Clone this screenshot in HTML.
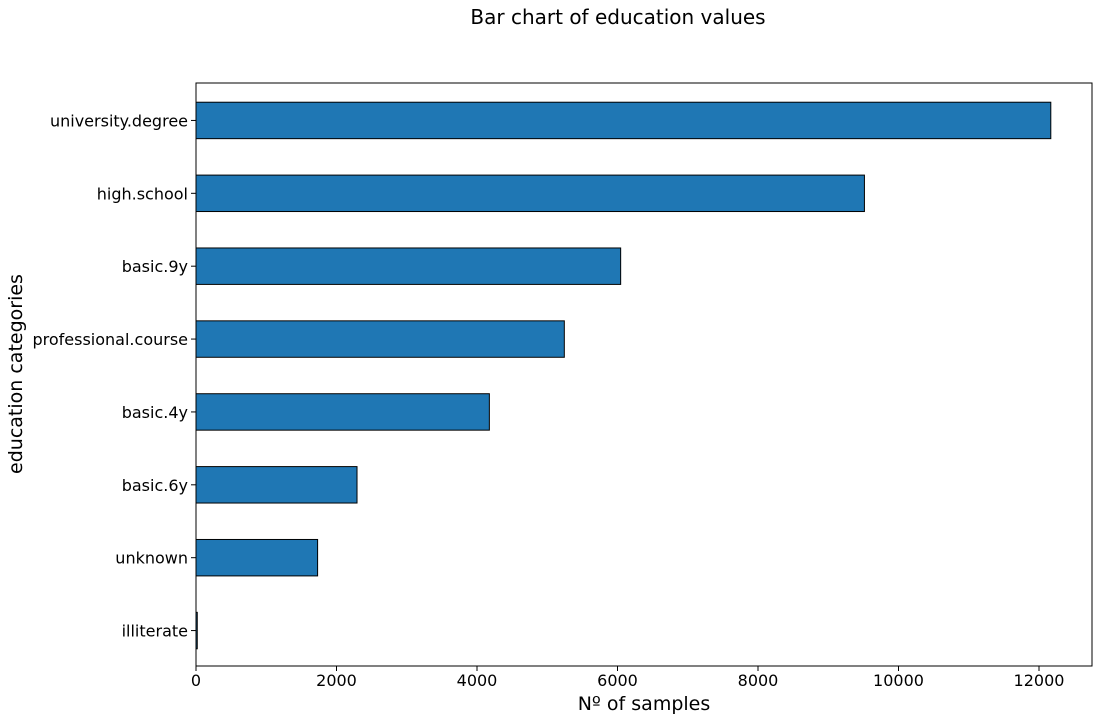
<!DOCTYPE html>
<html><head><meta charset="utf-8"><style>
body{margin:0;background:#fff;}
svg{display:block;font-family:"DejaVu Sans","Liberation Sans",sans-serif;}
</style></head><body>
<svg id="chart" width="1099" height="720">
<text x="618" y="24" text-anchor="middle" font-size="20">Bar chart of education values</text>
<g id="plot"></g>
<rect x="196" y="83" width="896" height="583" fill="none" stroke="#000" stroke-width="1"/>
<text x="644" y="710" text-anchor="middle" font-size="19">Nº of samples</text>
<text transform="translate(22,374) rotate(-90)" text-anchor="middle" font-size="19">education categories</text>
</svg>
<script>
const categories=["university.degree","high.school","basic.9y","professional.course","basic.4y","basic.6y","unknown","illiterate"];
const values=[12168,9515,6045,5243,4176,2292,1731,18];
const xTicks=[0,2000,4000,6000,8000,10000,12000];
const L=196,R=1092,T=83,B=666;
const x=v=>L+v*(1039-196)/12000;
const band=(B-T)/categories.length;
const y=i=>T+1+band*(i+0.5);
const ns="http://www.w3.org/2000/svg";
const g=document.getElementById('plot');
function mk(t,a){const e=document.createElementNS(ns,t);for(const k in a)e.setAttribute(k,a[k]);g.appendChild(e);return e;}
categories.forEach((c,i)=>{
  const r=mk('rect',{x:x(0),y:y(i)-band*0.25,width:x(values[i])-x(0),height:band*0.5,fill:'#1f77b4',stroke:'#000','stroke-width':1});
  
  
  mk('line',{x1:L-5,x2:L,y1:y(i),y2:y(i),stroke:'#000'});
  const t=mk('text',{x:L-8,y:y(i)+6,'text-anchor':'end','font-size':16});
  t.textContent=c;
  
  
});
xTicks.forEach(v=>{
  mk('line',{x1:x(v),x2:x(v),y1:B,y2:B+5,stroke:'#000'});
  const t=mk('text',{x:x(v),y:B+20,'text-anchor':'middle','font-size':16});
  t.textContent=v;
  
  
});
</script>
</body></html>
